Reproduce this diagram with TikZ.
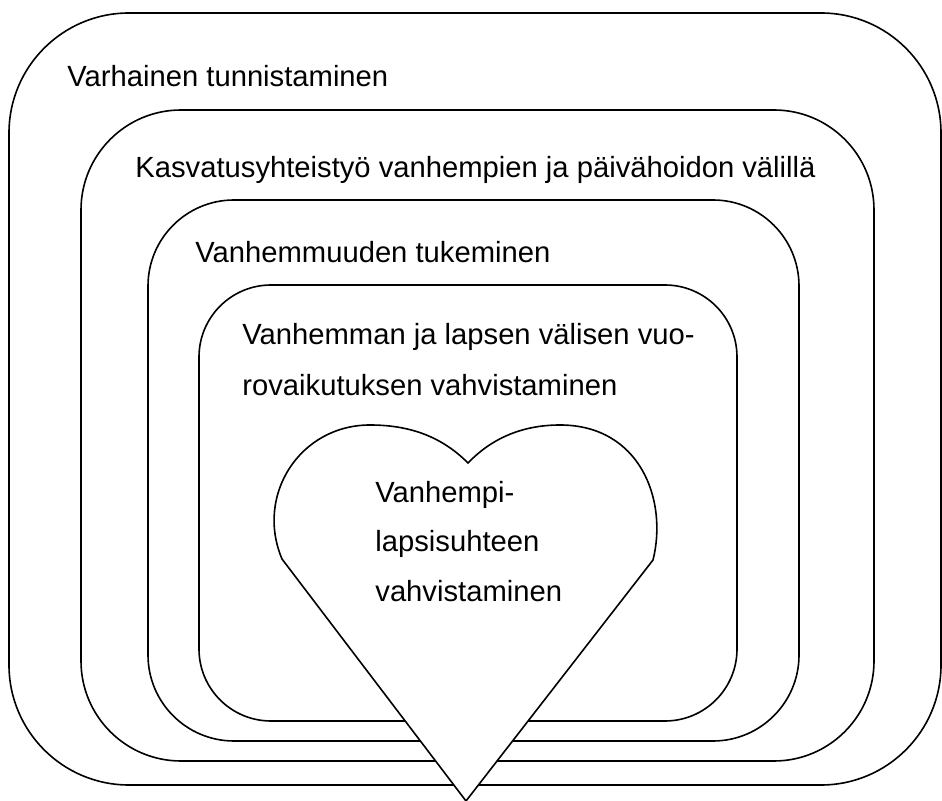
\documentclass[tikz,border=0pt]{standalone}
\usepackage{fontspec}
\setmainfont{Liberation Sans}

\tikzset{every node/.style={inner sep=0pt,anchor=base west,font=\fontsize{14.6}{25}\selectfont}}
\tikzset{layer/.style={draw,line width=0.8pt}}
\newcommand{\layerbox}[3]{\draw[layer,rounded corners=#3] (#1) rectangle (#2)}

\begin{document}
\begin{tikzpicture}[x=0.5pt,y=-0.5pt]
  \useasboundingbox (0,0) rectangle (942,801);

  \layerbox{9,13}{941,785}{60pt};
  \node at (67,87) (lbl-early) {Varhainen tunnistaminen};
  \layerbox{81,110}{874,761}{50pt};
  \node at (135,178) (lbl-coop) {Kasvatusyhteistyö vanhempien ja päivähoidon välillä};
  \layerbox{148,200}{799,741}{43pt};
  \node at (195,263) (lbl-support) {Vanhemmuuden tukeminen};
  \layerbox{199,285}{737,721}{36pt};
  \node at (242,345) (lbl-inter-a) {Vanhemman ja lapsen välisen vuo-};
  \node at (242,396) (lbl-inter-b) {rovaikutuksen vahvistaminen};

  % heart
  \draw[layer,fill=white] (282,559) -- (466,801) -- (653,560)
        .. controls (668,500) and (640,425) .. (560,425)
        .. controls (520,425) and (490,440) .. (468,463)
        .. controls (445,440) and (415,425) .. (370,425)
        .. controls (300,425) and (255,495) .. cycle;
  \node at (375,503) (lbl-heart-a) {Vanhempi-};
  \node at (375,552) (lbl-heart-b) {lapsisuhteen};
  \node at (375,602) (lbl-heart-c) {vahvistaminen};
\end{tikzpicture}
\end{document}
